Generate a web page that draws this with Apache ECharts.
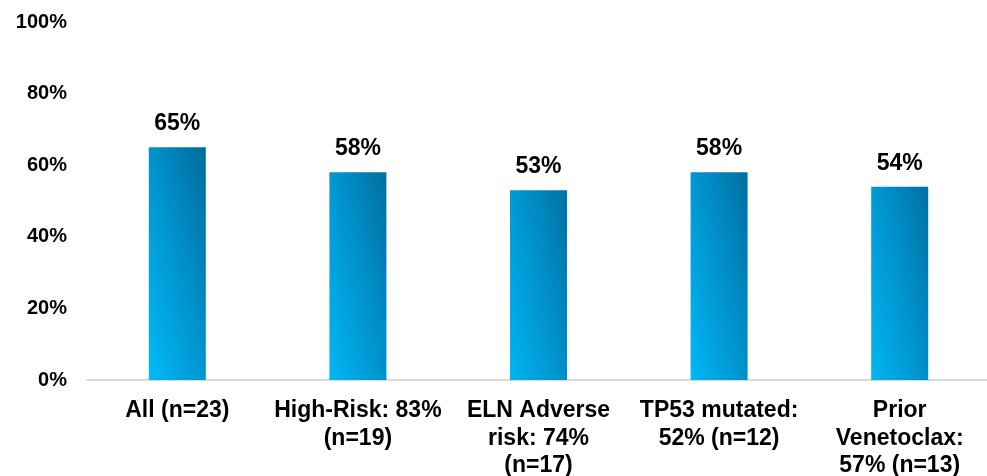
<!DOCTYPE html>
<html>
<head>
<meta charset="utf-8">
<script src="https://cdn.jsdelivr.net/npm/echarts@6/dist/echarts.min.js"></script>
<style>
html,body{margin:0;padding:0;background:#fff;}
#chart{width:987px;height:476px;}
</style>
</head>
<body>
<div id="chart"></div>
<script>
// Response rate by patient subgroup
const categories = [
  'All (n=23)',
  'High-Risk: 83%\n(n=19)',
  'ELN Adverse\nrisk: 74%\n(n=17)',
  'TP53 mutated:\n52% (n=12)',
  'Prior\nVenetoclax:\n57% (n=13)'
];
const values = [65, 58, 53, 58, 54];
const yTicks = [0, 20, 40, 60, 80, 100];

const FONT = 'Liberation Sans, Arial, sans-serif';

const chart = echarts.init(document.getElementById('chart'));
chart.setOption({
  animation: false,
  grid: {
    left: 87, width: 903, top: 22, bottom: 96,
    containLabel: false,
    outerBoundsMode: 'none'
  },
  xAxis: {
    type: 'category',
    data: categories,
    axisLine: { show: true, lineStyle: { color: '#D9D9D9', width: 2 } },
    axisTick: { show: false },
    axisLabel: {
      interval: 0,
      margin: 17,
      color: '#000',
      fontFamily: FONT,
      fontWeight: 'bold',
      fontSize: 23,
      lineHeight: 27.5
    }
  },
  yAxis: {
    type: 'value',
    min: yTicks[0],
    max: yTicks[yTicks.length - 1],
    interval: 20,
    splitLine: { show: false },
    axisLine: { show: false },
    axisTick: { show: false },
    axisLabel: {
      margin: 20,
      color: '#000',
      fontFamily: FONT,
      fontWeight: 'bold',
      fontSize: 20,
      formatter: v => v + '%'
    }
  },
  series: [{
    type: 'bar',
    data: values,
    barWidth: 57,
    itemStyle: {
      // diagonal shading: bright cyan at bottom-left, deep blue at top-right
      color: new echarts.graphic.LinearGradient(-0.44, 0.56, 1.44, 0.44, [
        { offset: 0, color: '#00BAF7' },
        { offset: 0.5, color: '#0094CF' },
        { offset: 1, color: '#006C9C' }
      ])
    },
    label: {
      show: true,
      position: 'top',
      distance: 12,
      color: '#000',
      fontFamily: FONT,
      fontWeight: 'bold',
      fontSize: 23,
      formatter: p => p.value + '%'
    }
  }]
});
</script>
</body>
</html>
